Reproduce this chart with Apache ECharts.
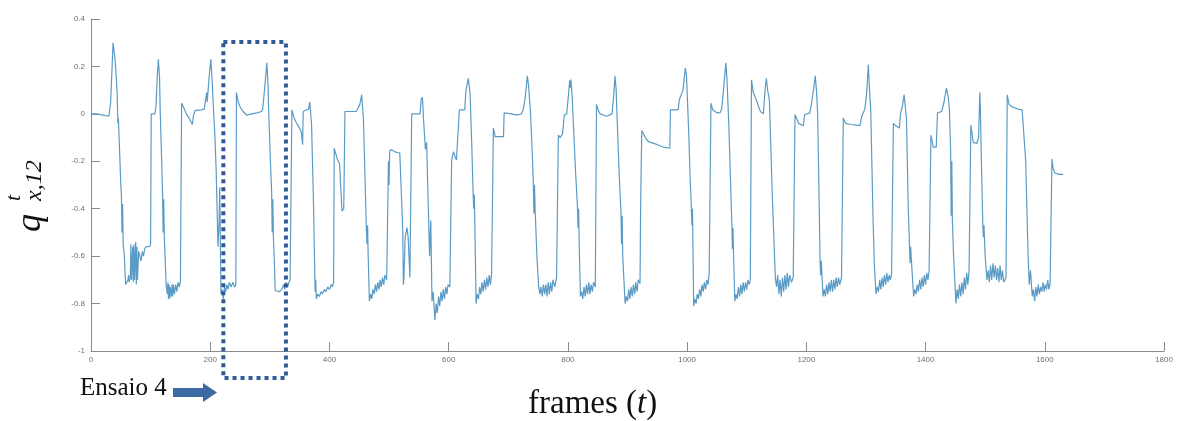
<!DOCTYPE html>
<html>
<head>
<meta charset="utf-8">
<script src="https://cdn.jsdelivr.net/npm/echarts@6.0.0/dist/echarts.min.js"></script>
<style>
  html, body { margin: 0; padding: 0; background: #fff; }
  #main { width: 1178px; height: 421px; }
</style>
</head>
<body>
<div id="main"></div>
<script>
// axis ticks
var xTicks = { min: 0, max: 1800, step: 200 };
var yTicks = { min: -1, max: 0.4, step: 0.2 };

// q_x,12 over frames, one array per stretch of the recording
var trialA = [
  [0,0],[10,0],[20,-0.005],[30,-0.01],[33,0.05],[37,0.30],[40,0.24],[42,0.17],[44,0.08],[45,-0.04],[46,-0.02],
  [50,-0.30],[51,-0.34],[52,-0.50],[53,-0.38],[54,-0.55],[56,-0.60],[58,-0.72],[60,-0.71],[62,-0.70],[63,-0.68],
  [64,-0.71],[66,-0.69],[67,-0.55],[68,-0.70],[70,-0.56],[71,-0.71],[72,-0.55],[73,-0.70],[75,-0.54],[76,-0.72],
  [77,-0.56],[78,-0.70],[80,-0.58],[82,-0.60],[84,-0.62],[86,-0.58],[88,-0.60],[90,-0.57],[92,-0.56],[98,-0.56],
  [100,-0.55],[101,0],[107,0],[109,0.03],[111,0.15],[113,0.23],[115,0.15],[116,0.02],[118,-0.15],[120,-0.33],
  [121,-0.50],[122,-0.36],[123,-0.52],[125,-0.65],[126,-0.72],[128,-0.76],[129,-0.71],[130,-0.78],[131,-0.72],
  [132,-0.78],[133,-0.73],[135,-0.77],[136,-0.72],[137,-0.77],[138,-0.72],[140,-0.76],[142,-0.72],[144,-0.75],
  [146,-0.71],[148,-0.73],[150,-0.71],[152,0.045],[155,0.03],[160,0],[165,-0.02],[170,-0.045],[172,-0.005],
  [175,0.015],[185,0.017],[190,0.02],[193,0.025],[194,0.09],[195,0.05],[198,0.15],[201,0.23],[203,0.15],
  [205,0.045],[208,-0.10],[210,-0.24],[213,-0.56],[215,-0.45],[216,-0.31],[218,-0.76],[220,-0.74],[222,-0.78],
  [224,-0.73],[226,-0.75],[228,-0.72],[230,-0.74],[232,-0.71],[235,-0.73],[238,-0.71],[241,-0.73],[243,-0.72],
  [244,0.09],[247,0.05],[250,0.03],[255,0.01],[261,-0.005],[270,0],[280,0.005],[286,0.01],[288,0.02],[291,0.10],
  [295,0.215],[297,0.12],[298,0.02],[301,-0.20],[303,-0.33],[304,-0.50],[305,-0.36],[306,-0.52],[308,-0.65],
  [309,-0.745],[312,-0.75],[316,-0.75],[320,-0.74],[323,-0.72],[325,-0.74],[327,-0.71],[330,-0.73],[332,-0.71],
  [334,-0.70],[337,0.017],[341,-0.02],[345,-0.04],[350,-0.06],[353,-0.08],[355,-0.13],[356,0.01],[360,0.015],
  [365,0.02],[367,0.05],[370,-0.045],[373,-0.35],[376,-0.75],[377,-0.70],[378,-0.78],[380,-0.76],[383,-0.77],
  [386,-0.75],[388,-0.76],[391,-0.74],[394,-0.75],[397,-0.73],[400,-0.74],[403,-0.72],[405,-0.73],[407,-0.71],
  [408,-0.145],[410,-0.15],[413,-0.19],[417,-0.21],[420,-0.21]
];
var trialB = [
  [421,-0.41],[424,-0.40],[426,0.01],[445,0.01],[448,0.015],[451,0.04],[454,0.08],[457,-0.02],[460,-0.30],
  [462,-0.49],[463,-0.55],[464,-0.47],[465,-0.60],[467,-0.79],[469,-0.76],[471,-0.78],[473,-0.74],[475,-0.76],
  [477,-0.72],[479,-0.75],[481,-0.71],[483,-0.74],[485,-0.70],[487,-0.73],[489,-0.69],[491,-0.72],[493,-0.68],
  [496,-0.70],[499,-0.20],[500,-0.30],[501,-0.16],[503,-0.15],[510,-0.16],[518,-0.165],[520,-0.17],[523,-0.49],
  [524,-0.72],[525,-0.69],[527,-0.52],[530,-0.48],[532,-0.52],[535,-0.69],[538,0],[552,0],[554,0.06],[556,0.07],
  [558,-0.03],[561,-0.15],[563,-0.12],[566,-0.41],[568,-0.60],[570,-0.45],[572,-0.79],[574,-0.75],[577,-0.87],
  [579,-0.80],[581,-0.84],[583,-0.77],[585,-0.81],[587,-0.75],[589,-0.79],[591,-0.74],[593,-0.78],[595,-0.73],
  [597,-0.76],[599,-0.72],[602,-0.73],[605,-0.195],[608,-0.16],[613,-0.195],[616,-0.19],[618,0.017],[627,0.017],
  [629,0.10],[633,0.15],[636,0.08],[639,-0.15],[641,-0.335],[642,-0.40],[643,-0.34],[644,-0.48],[646,-0.80],
  [648,-0.76],[650,-0.78],[652,-0.73],[654,-0.76],[656,-0.71],[658,-0.75],[660,-0.70],[662,-0.74],[664,-0.69],
  [666,-0.73],[668,-0.68],[670,-0.72],[672,-0.675],[675,-0.06],[678,-0.096],[692,-0.096],[693,0.004],[705,0],
  [715,-0.005],[722,0],[725,0.017],[728,0.06],[732,0.16],[734,0.12],[737,0.017],[740,-0.15],[742,-0.29],
  [743,-0.42],[744,-0.30],[745,-0.40],[748,-0.60],[751,-0.73],[753,-0.76],[755,-0.73],[757,-0.77],[759,-0.72],
  [761,-0.76],[763,-0.72],[765,-0.77],[767,-0.71],[769,-0.76],[771,-0.71],[773,-0.75],[775,-0.70],[778,-0.73],
  [781,-0.69],[784,-0.09],[787,-0.10],[791,-0.085],[794,-0.005],[798,0],[801,0.08],[803,0.14],[804,0.11],
  [805,0.145],[807,0.08],[809,-0.03],[813,-0.25],[816,-0.39],[817,-0.48],[818,-0.40],[819,-0.55],[821,-0.77],
  [823,-0.75],[825,-0.78],[827,-0.73],[829,-0.77],[831,-0.72],[833,-0.76],[835,-0.71],[837,-0.76],[839,-0.72]
];
var trialC = [
  [841,-0.75],[843,-0.71],[846,-0.73],[848,0.04],[851,0.015],[854,0],[865,-0.01],[874,0],[877,0.08],[879,0.16],
  [881,0.10],[882,0.02],[886,-0.25],[889,-0.41],[890,-0.55],[891,-0.43],[892,-0.60],[894,-0.70],[896,-0.80],
  [898,-0.77],[900,-0.79],[902,-0.74],[904,-0.78],[906,-0.73],[908,-0.77],[910,-0.72],[912,-0.76],[914,-0.71],
  [916,-0.75],[918,-0.70],[921,-0.715],[922,-0.40],[923,-0.22],[924,-0.07],[926,-0.07],[930,-0.10],[935,-0.117],
  [950,-0.13],[960,-0.14],[971,-0.145],[972,0.017],[985,0.017],[987,0.06],[993,0.10],[997,0.193],[999,0.16],
  [1003,-0.10],[1005,-0.265],[1007,-0.39],[1008,-0.47],[1009,-0.40],[1010,-0.60],[1011,-0.81],[1013,-0.78],
  [1015,-0.80],[1017,-0.76],[1019,-0.78],[1021,-0.74],[1023,-0.77],[1025,-0.72],[1027,-0.75],[1029,-0.71],
  [1031,-0.74],[1033,-0.70],[1035,-0.72],[1037,-0.675],[1040,0.045],[1043,0.017],[1050,0.005],[1055,0.004],
  [1058,0.02],[1061,0.10],[1065,0.215],[1067,0.14],[1070,-0.05],[1075,-0.46],[1076,-0.57],[1077,-0.48],
  [1078,-0.60],[1080,-0.79],[1082,-0.76],[1084,-0.78],[1086,-0.73],[1088,-0.77],[1090,-0.72],[1092,-0.76],
  [1094,-0.71],[1096,-0.75],[1098,-0.71],[1100,-0.74],[1102,-0.70],[1104,-0.72],[1106,-0.70],[1108,0.144],
  [1111,0.09],[1116,0.06],[1120,0.03],[1123,0.01],[1128,0],[1131,0.11],[1133,0.15],[1135,0.10],[1138,0.06],
  [1143,-0.35],[1148,-0.69],[1150,-0.73],[1152,-0.68],[1154,-0.76],[1156,-0.70],[1158,-0.77],[1160,-0.69],
  [1162,-0.75],[1164,-0.68],[1166,-0.74],[1168,-0.67],[1170,-0.73],[1172,-0.68],[1175,-0.71],[1178,-0.69],
  [1181,-0.004],[1187,-0.04],[1195,-0.05],[1197,-0.004],[1206,0.004],[1209,0.05],[1212,0.10],[1215,0.16],
  [1217,0.10],[1219,0],[1222,-0.45],[1223,-0.62],[1224,-0.68],[1225,-0.62],[1228,-0.77],[1230,-0.74],
  [1232,-0.77],[1234,-0.72],[1236,-0.76],[1238,-0.71],[1240,-0.75],[1242,-0.70],[1244,-0.75],[1246,-0.70],
  [1248,-0.74],[1250,-0.69],[1252,-0.73],[1254,-0.69],[1256,-0.72],[1259,-0.69]
];
var trialD = [
  [1262,-0.018],[1266,-0.04],[1275,-0.045],[1290,-0.05],[1293,-0.01],[1298,0.02],[1301,0.08],[1304,0.207],
  [1306,0.10],[1308,0.02],[1312,-0.45],[1314,-0.63],[1315,-0.68],[1317,-0.76],[1319,-0.73],[1321,-0.75],
  [1323,-0.70],[1325,-0.74],[1327,-0.69],[1329,-0.73],[1331,-0.68],[1333,-0.72],[1335,-0.67],[1337,-0.71],
  [1339,-0.68],[1341,-0.70],[1343,-0.675],[1346,-0.04],[1350,-0.05],[1356,-0.06],[1358,0],[1361,0.03],
  [1364,0.08],[1366,0.03],[1368,-0.02],[1371,-0.40],[1373,-0.55],[1374,-0.63],[1375,-0.56],[1377,-0.65],
  [1380,-0.77],[1382,-0.74],[1384,-0.76],[1386,-0.72],[1388,-0.75],[1390,-0.70],[1392,-0.74],[1394,-0.69],
  [1396,-0.73],[1398,-0.68],[1400,-0.72],[1402,-0.67],[1404,-0.70],[1406,-0.66],[1408,-0.66],[1409,-0.09],
  [1413,-0.14],[1418,-0.14],[1420,0.004],[1427,0.01],[1431,0.05],[1435,0.11],[1438,0.07],[1440,0.02],
  [1442,-0.15],[1443,-0.43],[1444,-0.20],[1445,-0.45],[1447,-0.60],[1449,-0.70],[1451,-0.80],[1453,-0.74],
  [1455,-0.78],[1457,-0.72],[1459,-0.77],[1461,-0.71],[1463,-0.76],[1465,-0.69],[1467,-0.74],[1469,-0.67],
  [1471,-0.72],[1473,-0.66],[1475,-0.66],[1476,-0.047],[1480,-0.12],[1486,-0.125],[1489,-0.10],[1491,0.09],
  [1492,0.02],[1494,-0.24],[1496,-0.46],[1497,-0.52],[1498,-0.47],[1500,-0.60],[1503,-0.70],[1505,-0.66],
  [1507,-0.71],[1509,-0.64],[1511,-0.70],[1513,-0.63],[1515,-0.69],[1517,-0.64],[1519,-0.70],[1521,-0.65],
  [1523,-0.71],[1525,-0.64],[1527,-0.70],[1529,-0.66],[1531,-0.71],[1535,-0.69],[1537,0.08],[1540,0.04],
  [1545,0.03],[1555,0.02],[1562,0.017],[1565,0.01],[1568,-0.20],[1572,-0.60],[1574,-0.72],[1576,-0.66],
  [1579,-0.77],[1581,-0.74],[1583,-0.79],[1585,-0.73],[1587,-0.77],[1589,-0.72],[1591,-0.76],[1593,-0.73],
  [1595,-0.75],[1597,-0.71],[1599,-0.75],[1601,-0.72],[1603,-0.74],[1605,-0.70],[1607,-0.74],[1609,-0.715],
  [1612,-0.19],[1614,-0.23],[1617,-0.25],[1625,-0.255],[1631,-0.255]
];

// "Ensaio 4" box, in frames
var trialBox = [222, 327];

var axisGray = '#8a8a8a';
var chart = echarts.init(document.getElementById('main'), null, { renderer: 'canvas' });

chart.setOption({
  animation: false,
  backgroundColor: '#fff',
  grid: { left: 91, right: 14, top: 19, bottom: 70 },
  xAxis: {
    type: 'value',
    min: xTicks.min, max: xTicks.max, interval: xTicks.step,
    axisLine: { onZero: false, lineStyle: { color: axisGray, width: 1 } },
    axisTick: { inside: true, length: 9, lineStyle: { color: axisGray } },
    axisLabel: {
      fontSize: 8, color: '#707070', margin: 5, fontFamily: 'Liberation Sans',
      formatter: function (v) { return String(v); }
    },
    splitLine: { show: false }
  },
  yAxis: {
    type: 'value',
    min: yTicks.min, max: yTicks.max, interval: yTicks.step,
    axisLine: { show: true, onZero: false, lineStyle: { color: axisGray, width: 1 } },
    axisTick: { show: true, inside: true, length: 9, lineStyle: { color: axisGray } },
    axisLabel: {
      fontSize: 8, color: '#707070', margin: 6, fontFamily: 'Liberation Sans',
      formatter: function (v) { return String(+v.toFixed(1)); }
    },
    splitLine: { show: false }
  },
  series: [{
    type: 'line',
    data: trialA.concat(trialB, trialC, trialD),
    showSymbol: false,
    lineStyle: { width: 1.2, color: '#5a9bc6' }
  }]
});

// annotations
var bx0 = chart.convertToPixel({ xAxisIndex: 0 }, trialBox[0]);
var bx1 = chart.convertToPixel({ xAxisIndex: 0 }, trialBox[1]);
var boxBlue = '#2f5a96';

chart.setOption({
  graphic: [
    {
      type: 'rect',
      shape: { x: bx0, y: 42, width: bx1 - bx0, height: 336 },
      style: { fill: null, stroke: boxBlue, lineWidth: 4, lineDash: [4, 4] },
      z: 100
    },
    {
      type: 'text',
      x: 80, y: 401,
      style: { text: 'Ensaio 4', font: '25px "Liberation Serif"', fill: '#111', textVerticalAlign: 'bottom' }
    },
    {
      type: 'polygon',
      shape: { points: [[173, 388], [203, 388], [203, 383], [217, 392.5], [203, 402], [203, 397], [173, 397]] },
      style: { fill: '#3d6aa3' }
    },
    {
      type: 'text',
      x: 528, y: 421,
      style: {
        text: '{a|frames (}{b|t}{a|)}',
        textVerticalAlign: 'bottom',
        rich: {
          a: { font: '33px "Liberation Serif"', fill: '#111' },
          b: { font: 'italic 33px "Liberation Serif"', fill: '#111' }
        }
      }
    },
    {
      type: 'group',
      x: 13, y: 232,
      rotation: Math.PI / 2,
      children: [
        { type: 'text', x: 0, y: 0, style: { text: 'q', font: 'italic 36px "Liberation Serif"', fill: '#111', textVerticalAlign: 'top' } },
        { type: 'text', x: 31, y: -10, style: { text: 't', font: 'italic 22px "Liberation Serif"', fill: '#111', textVerticalAlign: 'top' } },
        { type: 'text', x: 31, y: 10, style: { text: 'x,12', font: 'italic 24px "Liberation Serif"', fill: '#111', textVerticalAlign: 'top' } }
      ]
    }
  ]
});
</script>
</body>
</html>
